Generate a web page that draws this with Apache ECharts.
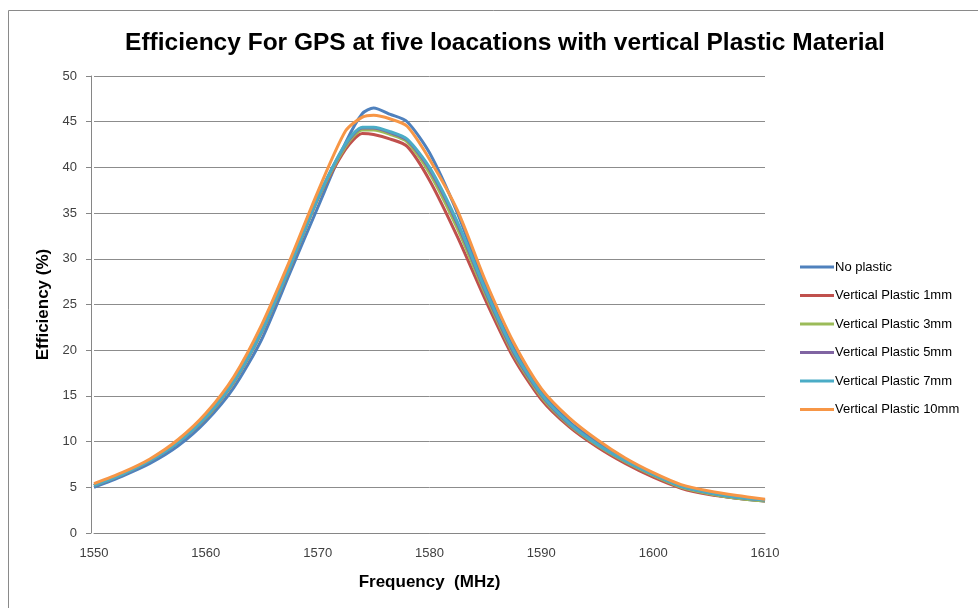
<!DOCTYPE html>
<html>
<head>
<meta charset="utf-8">
<script src="https://cdn.jsdelivr.net/npm/echarts@6/dist/echarts.min.js"></script>
<style>html,body{margin:0;padding:0;background:#fff}#c{width:978px;height:608px}</style>
</head>
<body>
<div id="c"></div>
<script>
const freqs = [1550, 1552.5, 1555, 1557.5, 1560, 1562.5, 1565, 1567.5, 1570, 1572.5, 1574, 1575, 1576.5, 1578, 1580, 1582.5, 1585, 1587.5, 1590, 1592.5, 1595, 1597.5, 1600, 1602.5, 1605, 1607.5, 1610];
const noPlastic = [5.0, 6.2, 7.6, 9.5, 12.2, 15.9, 21.2, 28.4, 35.6, 42.7, 45.9, 46.5, 45.8, 45.0, 41.6, 35.0, 27.0, 20.3, 15.4, 12.2, 9.9, 7.9, 6.3, 5.1, 4.3, 3.8, 3.5];
const plastic1mm = [5.2, 6.4, 7.9, 9.9, 12.6, 16.5, 22.0, 29.0, 36.5, 42.0, 43.7, 43.6, 43.1, 42.3, 38.6, 32.4, 25.5, 19.2, 14.6, 11.6, 9.4, 7.6, 6.1, 4.9, 4.2, 3.8, 3.5];
const plastic3mm = [5.2, 6.4, 7.9, 9.9, 12.6, 16.5, 22.0, 29.0, 36.5, 42.3, 44.1, 44.1, 43.6, 42.8, 39.4, 33.3, 26.1, 19.6, 14.9, 11.8, 9.6, 7.8, 6.3, 5.0, 4.3, 3.8, 3.5];
const plastic5mm = [5.2, 6.4, 7.9, 9.9, 12.7, 16.6, 22.1, 29.1, 36.6, 42.5, 44.3, 44.3, 43.8, 43.0, 39.8, 33.8, 26.4, 19.8, 15.1, 11.9, 9.7, 7.9, 6.4, 5.1, 4.4, 3.9, 3.6];
const plastic7mm = [5.2, 6.4, 7.9, 9.9, 12.7, 16.6, 22.1, 29.1, 36.6, 42.6, 44.4, 44.4, 43.9, 43.1, 40.0, 34.0, 26.6, 20.0, 15.2, 12.0, 9.7, 7.9, 6.4, 5.1, 4.4, 3.9, 3.6];
const plastic10mm = [5.4, 6.6, 8.1, 10.2, 13.1, 17.1, 22.8, 29.8, 37.3, 44.0, 45.5, 45.7, 45.3, 44.5, 40.9, 35.3, 27.6, 20.9, 15.8, 12.6, 10.2, 8.2, 6.6, 5.3, 4.6, 4.1, 3.7];

const seriesNames = ['No plastic', 'Vertical Plastic 1mm', 'Vertical Plastic 3mm', 'Vertical Plastic 5mm', 'Vertical Plastic 7mm', 'Vertical Plastic 10mm'];
const seriesData = [noPlastic, plastic1mm, plastic3mm, plastic5mm, plastic7mm, plastic10mm];
const colors = ['#4F81BD', '#C0504D', '#9BBB59', '#8064A2', '#4BACC6', '#F79646'];

const chart = echarts.init(document.getElementById('c'), null, {renderer: 'canvas'});
const font = '"Liberation Sans", Arial, sans-serif';
chart.setOption({
  animation: false,
  color: colors,
  textStyle: {fontFamily: font},
  graphic: [{
    type: 'rect', shape: {x: 8.5, y: 10.5, width: 1000, height: 700},
    style: {fill: null, stroke: '#8a8a8a', lineWidth: 1}, silent: true, z: -1
  }],
  title: {
    text: 'Efficiency For GPS at five loacations with vertical Plastic Material',
    left: 500, top: 26, textAlign: 'center',
    textStyle: {fontFamily: font, fontWeight: 'bold', fontSize: 24.5, color: '#000'}
  },
  legend: {
    orient: 'vertical', left: 795, top: 255,
    itemWidth: 34, itemHeight: 3, itemGap: 14.5, icon: 'rect',
    textStyle: {fontFamily: font, fontSize: 13, color: '#000', padding: [0, 0, 0, -4], lineHeight: 14},
    data: seriesNames
  },
  grid: {left: 94, right: 213, top: 76, bottom: 75},
  xAxis: {
    type: 'value', min: 1550, max: 1610, interval: 10,
    name: 'Frequency  (MHz)', nameLocation: 'middle', nameGap: 41,
    nameTextStyle: {fontFamily: font, fontWeight: 'bold', fontSize: 17, color: '#000'},
    axisLine: {show: true, lineStyle: {color: '#868686', width: 1}},
    axisTick: {show: false},
    axisLabel: {fontSize: 13, color: '#404040', margin: 14, formatter: v => String(v)},
    splitLine: {show: false}
  },
  yAxis: {
    type: 'value', min: 0, max: 50, interval: 5, offset: 3,
    name: 'Efficiency (%)', nameLocation: 'middle', nameGap: 39,
    nameTextStyle: {fontFamily: font, fontWeight: 'bold', fontSize: 17, color: '#000'},
    axisLine: {show: true, lineStyle: {color: '#868686', width: 1}},
    axisTick: {show: true, length: 5, lineStyle: {color: '#868686'}},
    axisLabel: {fontSize: 13, color: '#404040', margin: 14},
    splitLine: {show: true, lineStyle: {color: '#8c8c8c', width: 1}}
  },
  series: seriesNames.map((n, i) => ({
    name: n, type: 'line', smooth: 0.25, showSymbol: false, symbol: 'none',
    lineStyle: {width: 3, color: colors[i]},
    data: freqs.map((f, j) => [f, seriesData[i][j]])
  }))
});
</script>
</body>
</html>
